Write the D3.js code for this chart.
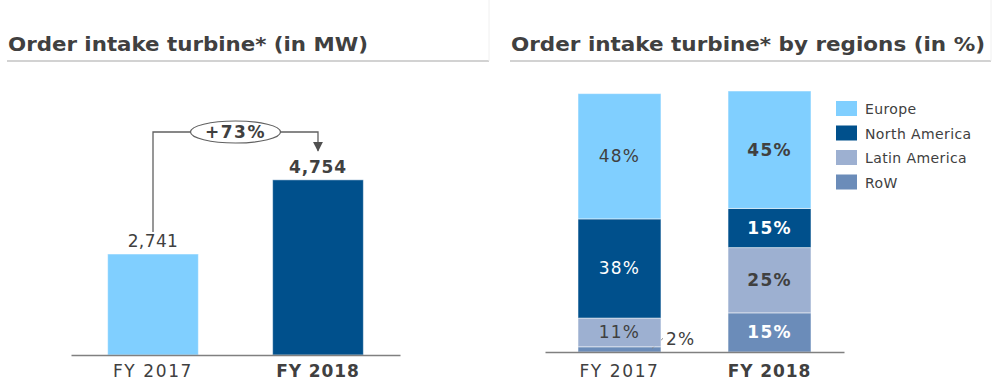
<!DOCTYPE html>
<html>
<head>
<meta charset="utf-8">
<script src="https://cdn.jsdelivr.net/npm/d3@7"></script>
<style>
  body { margin: 0; background: #fff; }
  svg { display: block; font-family: "DejaVu Sans", Verdana, sans-serif; }
</style>
</head>
<body>
<svg id="chart" width="1000" height="386"></svg>
<script>
const years = ['FY 2017', 'FY 2018']
const intakeMW = [2741, 4754]
const growthLabel = '+73%'

const regions = ['Europe', 'North America', 'Latin America', 'RoW']
const regionShare = {
  'FY 2017': [48, 38, 11, 2],
  'FY 2018': [45, 15, 25, 15]
}
const colors = ['#80cfff', '#00508c', '#9db0d1', '#6b8cb9']
const labelColors = ['#404040', '#ffffff', '#404040', '#ffffff']

const textColor = '#404040'
const svg = d3.select('#chart')

// panel headers (title + light underline / edge)
function header(x0, x1, title, len) {
  const g = svg.append('g')
  g.append('line').attr('x1', x0).attr('x2', x1).attr('y1', 61).attr('y2', 61)
    .attr('stroke', '#d2d2d2').attr('stroke-width', 2)
  g.append('line').attr('x1', x1).attr('x2', x1).attr('y1', 0).attr('y2', 61)
    .attr('stroke', '#f0f0f0').attr('stroke-width', 1)
  g.append('text').attr('x', x0 + 1).attr('y', 51)
    .attr('font-size', 19).attr('font-weight', 'bold').attr('fill', textColor)
    .attr('textLength', len).attr('lengthAdjust', 'spacingAndGlyphs')
    .text(title)
}
header(7, 489, 'Order intake turbine* (in MW)', 360)
header(510, 991, 'Order intake turbine* by regions (in %)', 474)

//////////////////////////////////////
// Left: order intake in MW
//////////////////////////////////////
const xL = d3.scaleBand().domain(years).range([71, 400]).paddingInner(0.45).paddingOuter(0.222)
const yL = d3.scaleLinear().domain([0, 2741]).range([355, 254])

const left = svg.append('g')
left.selectAll('rect').data(years).enter().append('rect')
  .attr('x', d => xL(d))
  .attr('width', xL.bandwidth())
  .attr('y', (d, i) => yL(intakeMW[i]))
  .attr('height', (d, i) => yL(0) - yL(intakeMW[i]))
  .attr('fill', (d, i) => i === 0 ? colors[0] : colors[1])
  .attr('stroke', '#ffffff').attr('stroke-opacity', 0.5)

left.selectAll('text.val').data(years).enter().append('text')
  .attr('class', 'val')
  .attr('x', d => xL(d) + xL.bandwidth() / 2)
  .attr('y', (d, i) => yL(intakeMW[i]) - 7)
  .attr('text-anchor', 'middle')
  .attr('font-size', 17)
  .attr('letter-spacing', (d, i) => i === 1 ? 0.8 : 0.4)
  .attr('font-weight', (d, i) => i === 1 ? 'bold' : 'normal')
  .attr('fill', textColor)
  .text((d, i) => d3.format(',')(intakeMW[i]))

const axL = left.append('g').attr('transform', `translate(0, ${yL(0)})`)
  .call(d3.axisBottom(xL).tickSize(0).tickPadding(10))
axL.select('.domain').attr('stroke', '#808080').attr('stroke-width', 1.5)
axL.selectAll('text').attr('font-size', 17).attr('fill', textColor)
  .attr('font-family', '"DejaVu Sans", Verdana, sans-serif')
  .attr('font-weight', (d, i) => i === 1 ? 'bold' : 'normal')
  .attr('letter-spacing', (d, i) => i === 1 ? 0.9 : 1.6)

// growth arrow
const c1 = xL(years[0]) + xL.bandwidth() / 2
const c2 = xL(years[1]) + xL.bandwidth() / 2
const arrowY = 132
svg.append('defs').append('marker')
  .attr('id', 'arrow').attr('viewBox', '0 0 10 10')
  .attr('refX', 9).attr('refY', 5)
  .attr('markerWidth', 10).attr('markerHeight', 10)
  .attr('markerUnits', 'userSpaceOnUse')
  .attr('orient', 'auto')
  .append('path').attr('d', 'M0,0 L10,5 L0,10 Z').attr('fill', '#505050')

left.append('path')
  .attr('d', `M${c1},${yL(intakeMW[0]) - 22} V${arrowY} H${c2} V${yL(intakeMW[1]) - 29}`)
  .attr('fill', 'none').attr('stroke', '#606060').attr('stroke-width', 1.3)
  .attr('marker-end', 'url(#arrow)')

const ex = (c1 + c2) / 2
left.append('ellipse').attr('cx', ex).attr('cy', arrowY).attr('rx', 45).attr('ry', 11)
  .attr('fill', '#fff').attr('stroke', '#606060').attr('stroke-width', 1.2)
left.append('text').attr('x', ex).attr('y', arrowY + 6)
  .attr('text-anchor', 'middle').attr('font-size', 17).attr('font-weight', 'bold')
  .attr('letter-spacing', 1.5)
  .attr('fill', textColor).text(growthLabel)

//////////////////////////////////////
// Right: regions in %
//////////////////////////////////////
const xR = d3.scaleBand().domain(years).range([545, 844]).paddingInner(0.447).paddingOuter(0.22)
const yR = d3.scaleLinear().domain([0, 100]).range([352, 91])

const stackRows = years.map(y => {
  const row = { year: y }
  regions.forEach((r, i) => { row[r] = regionShare[y][i] })
  return row
})
// stack bottom-up: RoW, Latin America, North America, Europe
const stacked = d3.stack().keys(regions.slice().reverse())(stackRows)

const right = svg.append('g')
stacked.forEach(layer => {
  const ri = regions.indexOf(layer.key)
  const g = right.append('g')
  g.selectAll('rect').data(layer).enter().append('rect')
    .attr('x', d => xR(d.data.year))
    .attr('width', xR.bandwidth())
    .attr('y', d => yR(d[1]))
    .attr('height', d => yR(d[0]) - yR(d[1]))
    .attr('fill', colors[ri])
    .attr('stroke', '#ffffff').attr('stroke-opacity', 0.5)

  g.selectAll('text').data(layer.filter(d => d[1] - d[0] >= 5)).enter().append('text')
    .attr('x', d => xR(d.data.year) + xR.bandwidth() / 2)
    .attr('y', d => (yR(d[0]) + yR(d[1])) / 2 + 6)
    .attr('text-anchor', 'middle')
    .attr('font-size', 17)
    .attr('letter-spacing', 1.2)
    .attr('font-weight', d => d.data.year === years[1] ? 'bold' : 'normal')
    .attr('fill', labelColors[ri])
    .text(d => (d[1] - d[0]) + '%')

  // small segment label outside with leader line
  layer.filter(d => d[1] - d[0] < 5).forEach(d => {
    const bx = xR(d.data.year) + xR.bandwidth()
    const my = (yR(d[0]) + yR(d[1])) / 2
    g.append('line').attr('x1', bx - 9).attr('y1', my - 1).attr('x2', bx + 2).attr('y2', my - 11)
      .attr('stroke', '#808080').attr('stroke-width', 1)
    g.append('text').attr('x', bx + 5).attr('y', my - 4)
      .attr('font-size', 17).attr('letter-spacing', 1.2).attr('fill', textColor)
      .text((d[1] - d[0]) + '%')
  })
})

const axR = right.append('g').attr('transform', `translate(0, ${yR(0)})`)
  .call(d3.axisBottom(xR).tickSize(0).tickPadding(13))
axR.select('.domain').attr('stroke', '#808080').attr('stroke-width', 1.5)
axR.selectAll('text').attr('font-size', 17).attr('fill', textColor)
  .attr('font-family', '"DejaVu Sans", Verdana, sans-serif')
  .attr('font-weight', (d, i) => i === 1 ? 'bold' : 'normal')
  .attr('letter-spacing', (d, i) => i === 1 ? 0.9 : 1.6)

// legend
const legend = svg.append('g').attr('transform', 'translate(836, 101)')
const items = legend.selectAll('g').data(regions).enter().append('g')
  .attr('transform', (d, i) => `translate(0, ${i * 24.5})`)
items.append('rect').attr('width', 21).attr('height', 15)
  .attr('fill', (d, i) => colors[i])
items.append('text').attr('x', 29).attr('y', 13)
  .attr('font-size', 14).attr('letter-spacing', 0.4)
  .attr('fill', textColor).text(d => d)
</script>
</body>
</html>
